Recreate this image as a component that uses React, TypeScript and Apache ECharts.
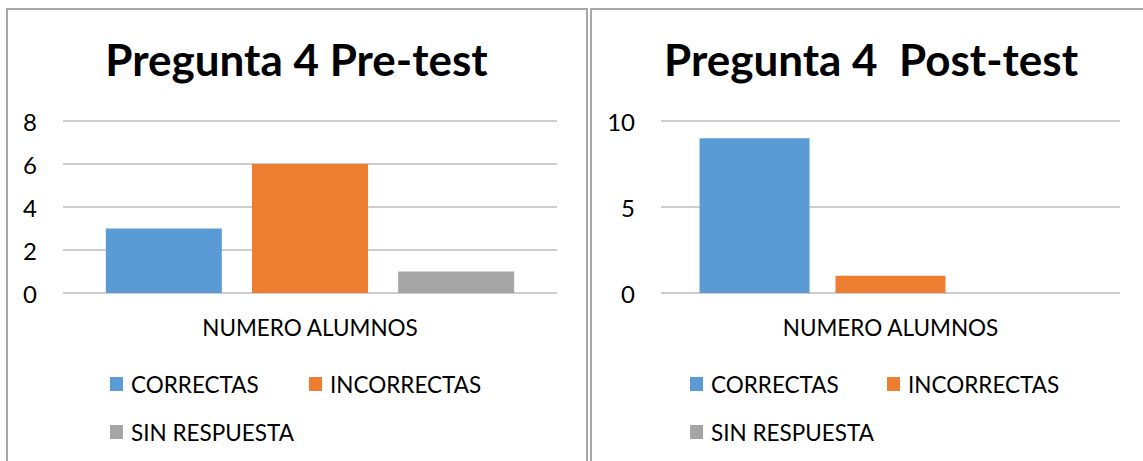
import React, { useEffect, useRef } from "react";
import * as echarts from "echarts";

const categories = ["NUMERO ALUMNOS"];
const seriesNames = ["CORRECTAS", "INCORRECTAS", "SIN RESPUESTA"];
const colors = ["#5B9BD5", "#ED7D31", "#A5A5A5"];
const preValues = [3, 6, 1];
const postValues = [9, 1, 0];
const preTitle = "Pregunta 4 Pre-test";
const postTitle = "Pregunta 4  Post-test";

const FONT = "Lato, 'Open Sans', sans-serif";

function buildOption(
  title: string,
  values: number[],
  yMax: number,
  yInterval: number,
  gridLeft: number,
  gridWidth: number,
  barWidth: number,
  barGap: string,
  legendLeft1: number,
  legendLeft2: number
) {
  const legends = [
    { name: seriesNames[0], left: legendLeft1, top: 372 },
    { name: seriesNames[1], left: legendLeft2, top: 372 },
    { name: seriesNames[2], left: legendLeft1, top: 420 },
  ].map((l) => ({
    data: [l.name],
    left: l.left,
    top: l.top,
    orient: "horizontal",
    padding: 0,
    itemWidth: 13,
    itemHeight: 14,
    icon: "rect",
    selectedMode: false,
    textStyle: {
      fontFamily: FONT,
      fontSize: 22.5,
      color: "#000",
      lineHeight: 24,
      padding: [0, 0, 0, 3],
    },
  }));
  return {
    animation: false,
    backgroundColor: "transparent",
    title: {
      text: title,
      left: "center",
      top: 34,
      padding: 0,
      textStyle: {
        fontFamily: FONT,
        fontWeight: "bold",
        fontSize: 44,
        lineHeight: 50,
        color: "#000",
      },
    },
    legend: legends,
    grid: {
      left: gridLeft,
      width: gridWidth,
      top: 121,
      height: 172,
      containLabel: false,
    },
    xAxis: {
      type: "category",
      data: categories,
      axisLine: { show: false },
      axisTick: { show: false },
      axisLabel: {
        fontFamily: FONT,
        fontSize: 22.5,
        color: "#000",
        margin: 23,
      },
    },
    yAxis: {
      type: "value",
      min: 0,
      max: yMax,
      interval: yInterval,
      axisLine: { show: false },
      axisTick: { show: false },
      splitLine: { lineStyle: { color: "#bcbcbc", width: 1.5 } },
      axisLabel: {
        fontFamily: FONT,
        fontSize: 24,
        color: "#000",
        margin: 26,
      },
    },
    series: seriesNames.map((name, i) => ({
      name,
      type: "bar",
      data: [values[i]],
      barWidth,
      barGap,
      itemStyle: { color: colors[i] },
    })),
  };
}

export default function App() {
  const leftRef = useRef<HTMLDivElement>(null);
  const rightRef = useRef<HTMLDivElement>(null);

  useEffect(() => {
    const c1 = echarts.init(leftRef.current!, undefined, { renderer: "svg" });
    const c2 = echarts.init(rightRef.current!, undefined, { renderer: "svg" });
    c1.setOption(
      buildOption(preTitle, preValues, 8, 2, 63, 494, 116, "26%", 110, 309) as any
    );
    c2.setOption(
      buildOption(postTitle, postValues, 10, 5, 70, 459, 110, "23.6%", 99, 296) as any
    );
    return () => {
      c1.dispose();
      c2.dispose();
    };
  }, []);

  return (
    <div
      style={{
        position: "fixed",
        left: 0,
        top: 0,
        width: 1143,
        height: 461,
        overflow: "hidden",
        background: "#fff",
      }}
    >
      <div
        style={{
          position: "absolute",
          left: 6,
          top: 8,
          width: 582,
          height: 520,
          boxSizing: "border-box",
          border: "2px solid #a8a8a8",
        }}
      />
      <div
        style={{
          position: "absolute",
          left: 590,
          top: 8,
          width: 600,
          height: 520,
          boxSizing: "border-box",
          border: "2px solid #a8a8a8",
        }}
      />
      <div
        ref={leftRef}
        style={{ position: "absolute", left: 0, top: 0, width: 593, height: 461 }}
      />
      <div
        ref={rightRef}
        style={{ position: "absolute", left: 591, top: 0, width: 560, height: 461 }}
      />
    </div>
  );
}
